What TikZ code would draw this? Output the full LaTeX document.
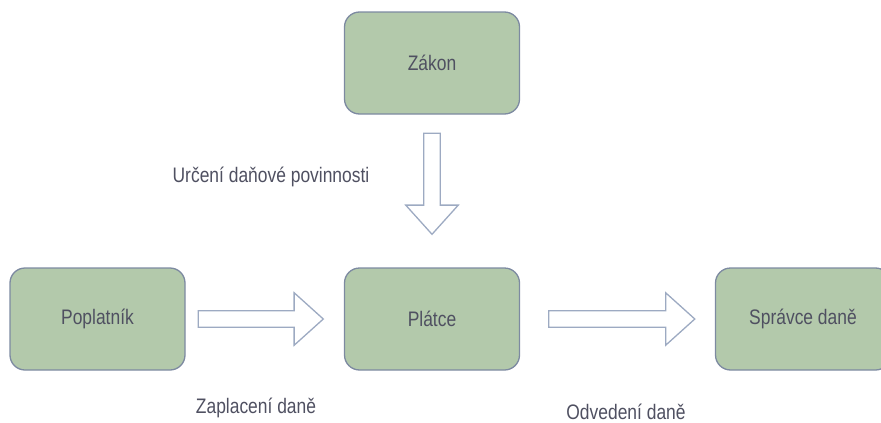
\documentclass[tikz,border=0pt]{standalone}
\usepackage{fontspec}
\setmainfont{Liberation Sans}[FakeStretch=0.83]
\usepackage{tikz}
\usetikzlibrary{shapes.arrows,positioning,calc}
\definecolor{boxfill}{HTML}{B3C9AB}
\definecolor{boxline}{HTML}{7D8AA1}
\definecolor{arrline}{HTML}{9DAAC2}
\definecolor{txtgray}{HTML}{4F5061}
\tikzset{
  ucet/.style={rectangle, rounded corners=15pt, draw=boxline, line width=1.3pt, fill=boxfill,
               align=center, text=txtgray, font=\fontsize{21}{24}\selectfont,
               minimum width=175pt, minimum height=102pt},
  tok/.style={single arrow, draw=arrline, line width=1.3pt, fill=white,
              minimum height=#1, inner xsep=0pt, inner ysep=7.6pt,
              single arrow head extend=18pt, single arrow tip angle=84,
              single arrow head indent=0pt},
  tokdolu/.style={tok=#1, shape border rotate=270, inner xsep=7.6pt, inner ysep=0pt},
  popis/.style={text=txtgray, font=\fontsize{21}{24}\selectfont, inner sep=0pt},
}

\begin{document}
\begin{tikzpicture}[x=1pt, y=-1pt]
  \useasboundingbox (0,0) rectangle (881,423);
  \node[ucet] (zakon) at (432,63) {Zákon};
  \node[ucet] (poplatnik) at (97.5,319) {Poplatník};
  \node[ucet] (platce) at (432,319) {Plátce};
  \node[ucet] (spravce) at (803,319) {Správce daně};
  % blokove sipky
  \node[tokdolu=101pt, anchor=tail] (urceni) at ([yshift=-18pt]zakon.south) {};
  \node[tok=125pt, anchor=tail] (zaplaceni) at ([xshift=12pt]poplatnik.east) {};
  \node[tok=146pt, anchor=tail] (odvedeni) at ([xshift=28pt]platce.east) {};
  \node[popis] (urcenitxt) at (271,177) {Určení daňové povinnosti};
  \node[popis] (zaplacenitxt) at (256,408) {Zaplacení daně};
  \node[popis] (odvedenitxt) at (626,412) {Odvedení daně};
\end{tikzpicture}
\end{document}
